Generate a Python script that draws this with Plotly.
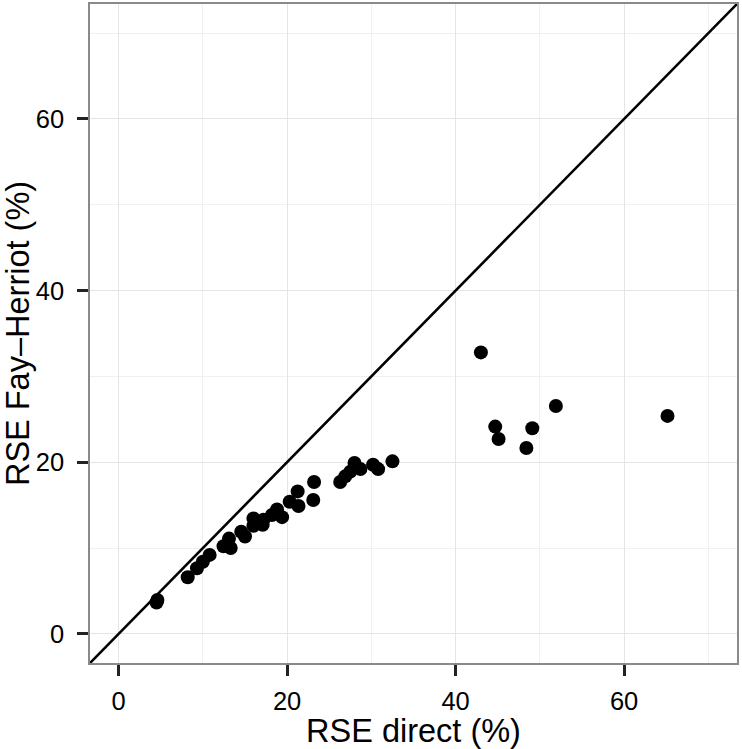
import plotly.graph_objects as go

# RSE (%)
rse_direct = [4.5, 4.6, 8.2, 9.3, 10.0, 10.8, 12.45, 13.1, 13.3, 14.55, 15.0, 16.0, 16.0,
              17.1, 17.2, 18.2, 18.8, 19.4, 20.3, 21.25, 21.35, 23.1, 23.2, 26.3, 26.9,
              27.5, 28.0, 28.7, 30.2, 30.8, 32.5, 43.0, 44.7, 45.1, 48.4, 49.1, 51.9, 65.15]
rse_fh = [3.65, 3.95, 6.6, 7.65, 8.4, 9.2, 10.2, 11.1, 10.0, 11.9, 11.35, 13.45, 12.6,
          12.7, 13.3, 13.85, 14.5, 13.6, 15.4, 16.6, 14.9, 15.6, 17.7, 17.7, 18.35,
          18.9, 19.9, 19.2, 19.7, 19.2, 20.1, 32.8, 24.15, 22.7, 21.65, 23.95, 26.55, 25.4]

tick_vals = [0, 20, 40, 60]
tick_text = ["0", "20", "40", "60"]
axis_range = [-3.4, 73.4]
abline_intercept = 0
abline_slope = 1

FONT = "Liberation Sans, Arial, Helvetica, sans-serif"

fig = go.Figure()
fig.add_trace(go.Scatter(
    x=rse_direct, y=rse_fh, mode="markers",
    marker=dict(color="black", size=14, line=dict(width=0)),
    showlegend=False, hoverinfo="x+y"))

line_x = axis_range
line_y = [abline_intercept + abline_slope * v for v in line_x]
fig.add_trace(go.Scatter(
    x=line_x, y=line_y, mode="lines",
    line=dict(color="black", width=2.6),
    showlegend=False, hoverinfo="skip"))

axis_common = dict(
    range=axis_range, tickvals=tick_vals, ticktext=tick_text,
    showgrid=True, gridcolor="#e5e5e5", gridwidth=1.2,
    minor=dict(dtick=10, tick0=0, showgrid=True, gridcolor="#f0f0f0", gridwidth=1.2),
    zeroline=False, showline=True, linecolor="#8a8a8a", linewidth=1.5, mirror=True,
    ticks="outside", ticklen=11, tickwidth=2.6, tickcolor="#222222",
    tickfont=dict(family=FONT, size=25.5, color="black"),
)

fig.update_xaxes(**axis_common,
                 title=dict(text="RSE direct (%)", font=dict(family=FONT, size=32.5, color="black"),
                            standoff=1),
                 ticklabelstandoff=4)
fig.update_yaxes(**axis_common,
                 title=dict(text="RSE Fay\u2013Herriot (%)", font=dict(family=FONT, size=32.5, color="black"),
                            standoff=2),
                 ticklabelstandoff=8)

fig.update_layout(
    width=742, height=749,
    margin=dict(l=90, r=5, t=4, b=86, autoexpand=False),
    plot_bgcolor="white", paper_bgcolor="white",
    font=dict(family=FONT, color="black"),
)

fig.write_html("out.html",
               config={"displayModeBar": False},
               post_script="document.body.style.margin='0';document.body.style.overflow='hidden';")
